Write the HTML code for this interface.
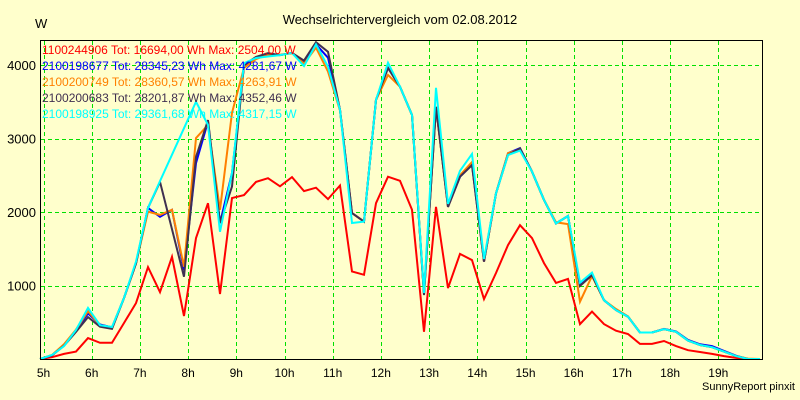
<!DOCTYPE html>
<html><head><meta charset="utf-8"><style>
html,body{margin:0;padding:0;background:#ffffcc;}
svg{display:block;font-family:"Liberation Sans",Arial,sans-serif;}
</style></head><body>
<svg id="chart" width="800" height="400" viewBox="0 0 800 400">
<rect x="0" y="0" width="800" height="400" fill="#ffffcc"/>
<text x="400" y="24" font-size="13" text-anchor="middle" fill="#000">Wechselrichtervergleich vom 02.08.2012</text>
<text x="35" y="28" font-size="13" fill="#000">W</text>
<g id="grid"></g>
<g id="ticks"></g>
<g id="series"></g>
<rect x="40.5" y="40.5" width="722" height="319" fill="none" stroke="#000" stroke-width="1"/>
<g id="legend"></g>
<text x="795" y="390" font-size="11" text-anchor="end" fill="#000">SunnyReport pinxit</text>
</svg>
<script>
const hourTicks = ["5h","6h","7h","8h","9h","10h","11h","12h","13h","14h","15h","16h","17h","18h","19h"];
const yTicks = [1000,2000,3000,4000];
const seriesNames = ["1100244906 Tot: 16694,00 Wh Max: 2504,00 W","2100198677 Tot: 28345,23 Wh Max: 4281,67 W","2100200749 Tot: 28360,57 Wh Max: 4263,91 W","2100200683 Tot: 28201,87 Wh Max: 4352,46 W","2100198925 Tot: 29361,68 Wh Max: 4317,15 W"];
const seriesColors = ["#ff0000","#0000ff","#ff8000","#403050","#00ffff"];
const red = [0,25,70,100,285,220,220,490,760,1250,910,1390,585,1645,2120,885,2190,2230,2410,2460,2350,2475,2285,2330,2175,2360,1190,1145,2120,2480,2425,2030,370,2070,965,1430,1345,815,1170,1550,1820,1645,1305,1035,1090,475,645,475,385,340,205,205,245,175,120,95,70,40,15,0,0];
const blue = [0,50,190,390,620,470,430,830,1300,2055,1935,2030,1210,2665,3230,1850,2530,3990,4100,4140,4135,4165,4040,4280,4100,3390,1985,1870,3525,3960,3705,3320,880,3430,2070,2480,2640,1325,2255,2800,2870,2550,2165,1845,1945,1000,1150,800,665,575,360,360,410,375,260,200,175,110,45,0,0];
const orange = [0,55,200,400,650,460,430,830,1300,2005,1960,2030,1255,3005,3185,2030,3350,3960,4080,4140,4140,4160,4020,4235,3910,3380,1985,1870,3525,3865,3705,3320,880,3430,2070,2500,2680,1325,2255,2800,2850,2550,2165,1860,1835,780,1130,800,680,580,360,360,405,370,250,190,160,100,40,5,0];
const dark = [0,50,180,370,570,440,410,830,1300,2055,2410,1765,1120,2750,3250,1850,2345,4000,4110,4160,4135,4165,4060,4310,4180,3390,1985,1870,3525,3960,3705,3320,870,3430,2070,2480,2640,1325,2255,2775,2865,2550,2165,1845,1945,995,1140,800,665,575,360,360,405,370,250,190,160,100,40,0,0];
const cyan = [0,55,175,395,695,460,435,830,1325,2055,2420,2780,3140,3500,3185,1730,2530,4025,4095,4115,4135,4165,3985,4280,3975,3390,1850,1870,3525,4030,3705,3320,900,3690,2110,2560,2790,1360,2255,2775,2835,2550,2165,1845,1945,1040,1175,800,665,575,360,360,405,370,250,190,160,100,40,0,0];

const NS="http://www.w3.org/2000/svg";
function xHour(i){return 43.5+i*48.2;}           // hour tick index -> px
function xSample(i){return 40+i*12;}             // 15-min sample index -> px
function yVal(v){return 359-v*0.0735;}
function mk(tag,attrs,parent){const e=document.createElementNS(NS,tag);for(const k in attrs)e.setAttribute(k,attrs[k]);parent.appendChild(e);return e;}

const grid=document.getElementById('grid'), ticks=document.getElementById('ticks');
hourTicks.forEach((t,i)=>{
  const x=Math.round(xHour(i))+0.5;
  const l=mk('line',{x1:x,y1:41,x2:x,y2:359,stroke:'#00e000','stroke-width':1,'stroke-dasharray':'4,3'},grid);
  
  
  const tx=mk('text',{x:xHour(i),y:377,'font-size':12,'text-anchor':'middle',fill:'#000'},ticks);
  tx.textContent=t;
  
  
});
yTicks.forEach(v=>{
  const y=Math.round(yVal(v))+0.5;
  const l=mk('line',{x1:41,y1:y,x2:762,y2:y,stroke:'#00e000','stroke-width':1,'stroke-dasharray':'4,3'},grid);
  
  
  const tx=mk('text',{x:36,y:yVal(v)+5,'font-size':13,'text-anchor':'end',fill:'#000'},ticks);
  tx.textContent=String(v);
  
  
});

const seriesData=[red,blue,orange,dark,cyan];
const sg=document.getElementById('series');
seriesData.forEach((arr,s)=>{
  const pts=arr.map((v,i)=>xSample(i).toFixed(1)+','+yVal(v).toFixed(1)).join(' ');
  const p=mk('polyline',{points:pts,fill:'none',stroke:seriesColors[s],'stroke-width':2,'stroke-linejoin':'miter'},sg);
  
  
});

const lg=document.getElementById('legend');
seriesNames.forEach((n,s)=>{
  const t=mk('text',{x:42,y:54+s*16,'font-size':12,fill:seriesColors[s]},lg);
  t.textContent=n;
  
  
});
</script>
</body></html>
